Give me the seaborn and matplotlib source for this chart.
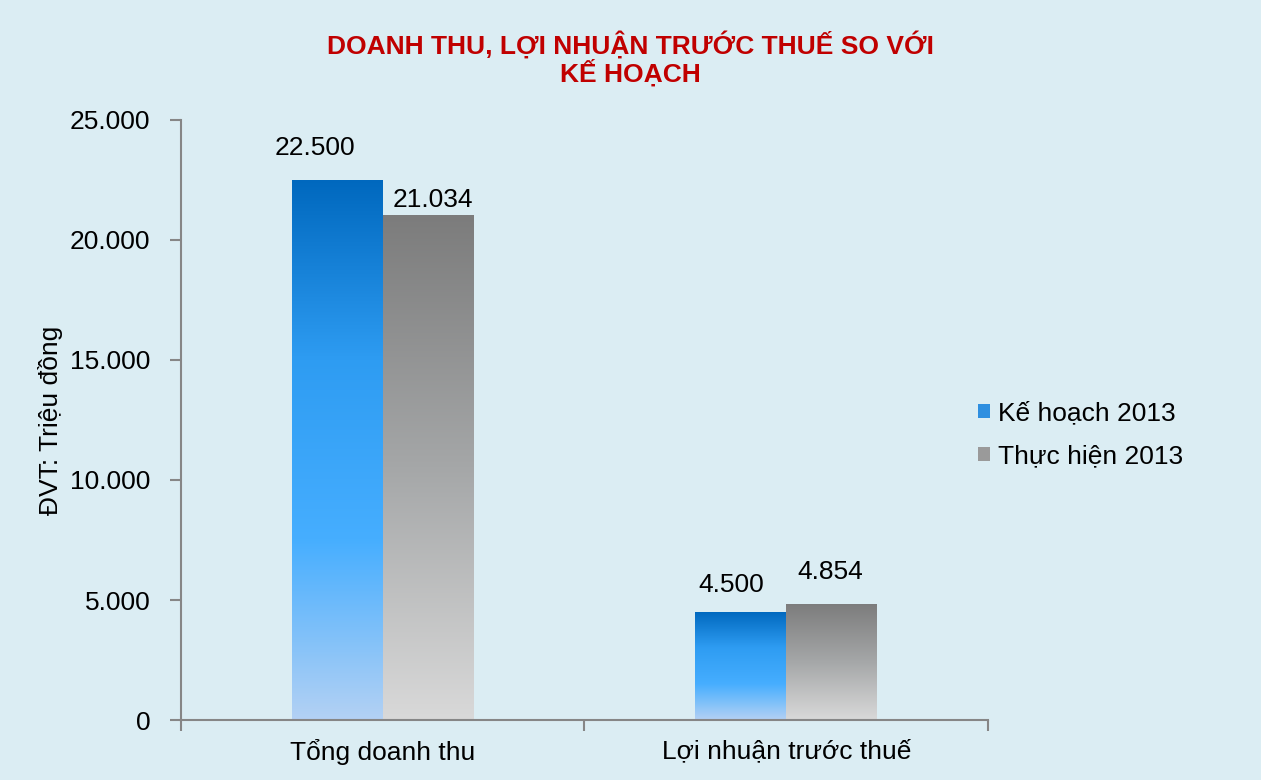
import matplotlib
matplotlib.use("Agg")
import matplotlib.pyplot as plt
import matplotlib.ticker as mticker
from matplotlib.colors import LinearSegmentedColormap
from matplotlib.patches import Patch
import seaborn as sns
import pandas as pd
import numpy as np

categories = ["Tổng doanh thu", "Lợi nhuận trước thuế"]
series = ["Kế hoạch 2013", "Thực hiện 2013"]
ke_hoach = [22500, 4500]
thuc_hien = [21034, 4854]
y_ticks = [0, 5000, 10000, 15000, 20000, 25000]

df = pd.DataFrame({
    "cat": categories * 2,
    "series": [series[0]] * 2 + [series[1]] * 2,
    "value": ke_hoach + thuc_hien,
})

# label placement (pixels) relative to the top centre of each bar
label_dx = [-22, -10, 5, -1]
label_dy = [32, 27, 15, 32]

bg = "#DBEDF3"
sns.set_theme(style="white")
plt.rcParams["font.family"] = ["Liberation Sans", "DejaVu Sans"]
plt.rcParams["text.color"] = "black"

fig = plt.figure(figsize=(12.61, 7.8), dpi=100, facecolor=bg)
ax = fig.add_axes([0.1435, 0.0769, 0.64, 0.7693])
ax.set_facecolor(bg)

sns.barplot(data=df, x="cat", y="value", hue="series", order=categories,
            hue_order=series, width=0.45, ax=ax, legend=False,
            palette=["#1E88E5", "#A6A6A6"], edgecolor="none")

blue_cmap = LinearSegmentedColormap.from_list(
    "b", ["#0068BE", "#2E9CF2", "#46AEFF", "#B3D1F4"])
gray_cmap = LinearSegmentedColormap.from_list(
    "g", ["#7C7C7C", "#A5A7A8", "#D9D9D9"])

grad = np.linspace(0, 1, 256).reshape(-1, 1)
for i, patch in enumerate(ax.patches):
    cmap = blue_cmap if i < len(categories) else gray_cmap
    x0, y0 = patch.get_x(), patch.get_y()
    w, h = patch.get_width(), patch.get_height()
    patch.set_facecolor("none")
    im = ax.imshow(grad, cmap=cmap, aspect="auto",
                   extent=[x0, x0 + w, y0, y0 + h], origin="upper", zorder=2)
    im.set_clip_path(patch)
    label = f"{int(h):,}".replace(",", ".")
    ax.annotate(label, (x0 + w / 2, h), xytext=(label_dx[i] * 0.72, label_dy[i] * 0.72),
                textcoords="offset points", ha="center", va="center",
                fontsize=19, color="black")

ax.set_xlim(-0.5, 1.5)
ax.set_ylim(0, 25000)
ax.set_yticks(y_ticks)
ax.yaxis.set_major_formatter(mticker.FuncFormatter(
    lambda v, p: f"{int(v):,}".replace(",", ".")))
ax.tick_params(axis="y", direction="out", length=8, width=1.5, color="#868686",
               labelsize=19, labelcolor="black", left=True, pad=14)
ax.set_xticks(range(len(categories)))
ax.set_xticklabels(categories)
ax.tick_params(axis="x", length=0, labelsize=19, labelcolor="black", pad=14)
ax.set_xticks([-0.5, 0.5, 1.5], minor=True)
ax.tick_params(axis="x", which="minor", direction="out", length=8, width=1.5,
               color="#868686", bottom=True)

for s in ["top", "right"]:
    ax.spines[s].set_visible(False)
for s in ["left", "bottom"]:
    ax.spines[s].set_color("#868686")
    ax.spines[s].set_linewidth(1.5)

ax.set_xlabel("")
ax.set_ylabel("ĐVT: Triệu đồng", fontsize=19, color="black", labelpad=5)

fig.text(0.5, 0.925, "DOANH THU, LỢI NHUẬN TRƯỚC THUẾ SO VỚI\nKẾ HOẠCH",
         ha="center", va="center", fontsize=19, fontweight="bold",
         color="#C00000", linespacing=1.05)

handles = [Patch(facecolor="#2E8FE0", edgecolor="none"),
           Patch(facecolor="#9A9A9A", edgecolor="none")]
fig.legend(handles, series, loc="center left", bbox_to_anchor=(0.757, 0.442),
           frameon=False, handlelength=0.45, handleheight=0.45,
           handletextpad=0.3, labelspacing=0.72, prop={"size": 19})

fig.savefig("out.png", dpi=100, facecolor=bg)
